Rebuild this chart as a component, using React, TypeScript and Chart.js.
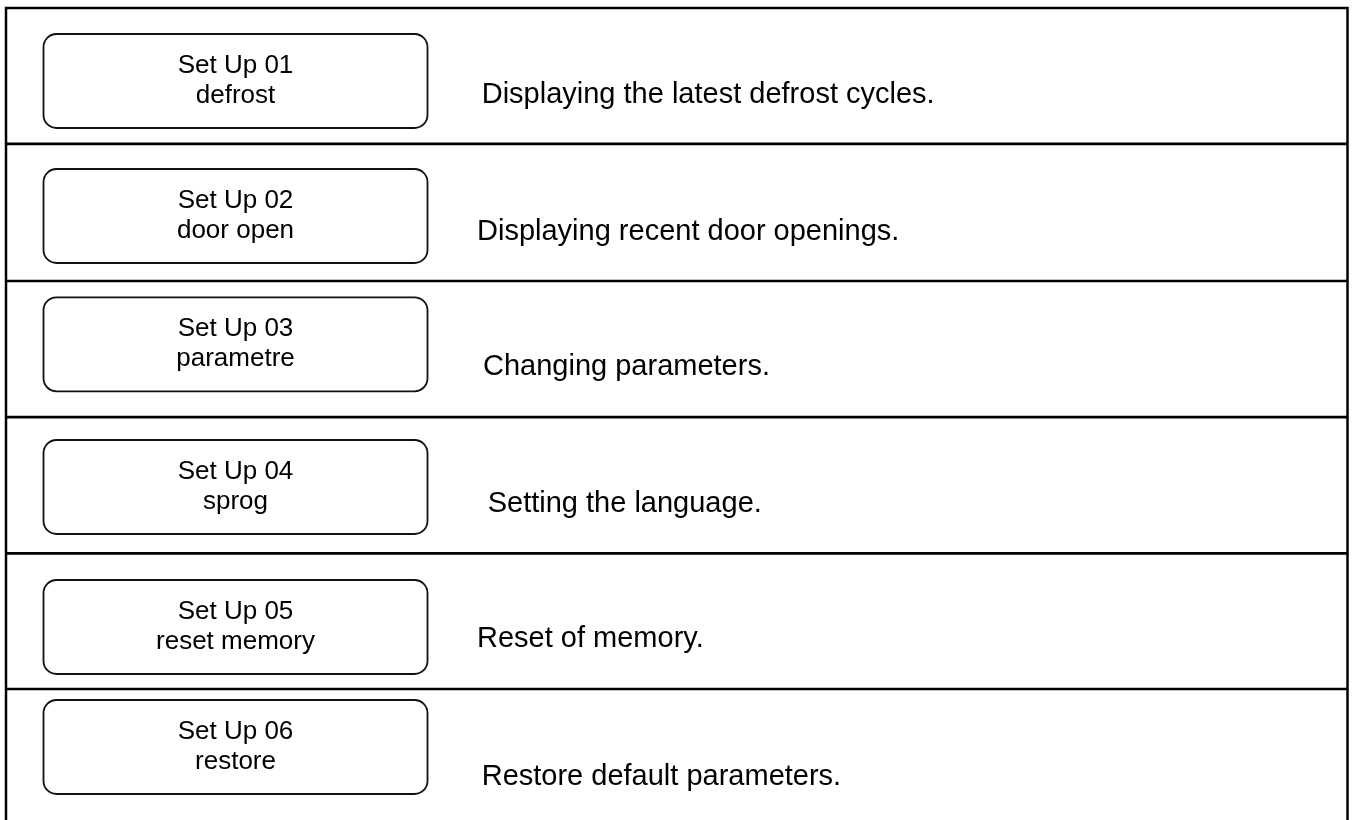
import React, { useEffect, useRef } from "react";
import { Chart, registerables } from "chart.js";

Chart.register(...registerables);

// ---- content ----
const setupCodes = ["Set Up 01", "Set Up 02", "Set Up 03", "Set Up 04", "Set Up 05", "Set Up 06"];
const setupNames = ["defrost", "door open", "parametre", "sprog", "reset memory", "restore"];
const descriptions = [
  "Displaying the latest defrost cycles.",
  "Displaying recent door openings.",
  "Changing parameters.",
  "Setting the language.",
  "Reset of memory.",
  "Restore default parameters.",
];

// ---- layout (values on the hidden linear scales) ----
const W = 1354;
const H = 820;
const frameLeft = 6;
const frameRight = 1347.5;
const frameTop = 8;
const rowLines = [143.8, 281, 417.2, 553.3, 689];
const boxLeft = 43.5;
const boxRight = 427.5;
const boxHeight = 94;
const boxTops = [34, 169, 297.3, 440, 580, 700];
const descX = [481.7, 477, 483, 487.7, 477, 481.7];
const descBaselines = [103, 240, 375, 511.7, 647, 785];

const FONT = "'Liberation Sans', Arial, Helvetica, sans-serif";

const tablePlugin = {
  id: "setupTable",
  afterDraw(chart: any) {
    const { ctx } = chart;
    const xs = chart.scales.x;
    const ys = chart.scales.y;
    const px = (v: number) => xs.getPixelForValue(v);
    const py = (v: number) => ys.getPixelForValue(v);

    ctx.save();
    // outer frame (open at the bottom, continues below the view)
    ctx.strokeStyle = "#000";
    ctx.lineWidth = 2.5;
    ctx.beginPath();
    ctx.moveTo(px(frameLeft), py(H + 10));
    ctx.lineTo(px(frameLeft), py(frameTop));
    ctx.lineTo(px(frameRight), py(frameTop));
    ctx.lineTo(px(frameRight), py(H + 10));
    ctx.stroke();

    // row separators
    ctx.lineWidth = 2.7;
    rowLines.forEach((y) => {
      ctx.beginPath();
      ctx.moveTo(px(frameLeft), py(y));
      ctx.lineTo(px(frameRight), py(y));
      ctx.stroke();
    });

    // rounded boxes with labels
    setupCodes.forEach((code, i) => {
      const x0 = px(boxLeft);
      const x1 = px(boxRight);
      const y0 = py(boxTops[i]);
      const y1 = py(boxTops[i] + boxHeight);
      ctx.beginPath();
      ctx.lineWidth = 1.8;
      ctx.strokeStyle = "#111";
      (ctx as any).roundRect(x0, y0, x1 - x0, y1 - y0, 13);
      ctx.stroke();

      ctx.fillStyle = "#000";
      ctx.font = `26px ${FONT}`;
      ctx.textAlign = "center";
      ctx.textBaseline = "alphabetic";
      const cx = (x0 + x1) / 2;
      ctx.fillText(code, cx, py(boxTops[i] + 39));
      ctx.fillText(setupNames[i], cx, py(boxTops[i] + 69));

      ctx.font = `29px ${FONT}`;
      ctx.textAlign = "left";
      ctx.fillText(descriptions[i], px(descX[i]), py(descBaselines[i]));
    });
    ctx.restore();
  },
};

export default function App() {
  const canvasRef = useRef<HTMLCanvasElement | null>(null);

  useEffect(() => {
    if (!canvasRef.current) return;
    const chart = new Chart(canvasRef.current, {
      type: "scatter",
      data: { datasets: [{ data: [], pointRadius: 0 }] },
      options: {
        animation: false,
        responsive: false,
        devicePixelRatio: 1,
        layout: { padding: 0 },
        events: [],
        scales: {
          x: { type: "linear", min: 0, max: W, display: false },
          y: { type: "linear", min: 0, max: H, reverse: true, display: false },
        },
        plugins: {
          legend: { display: false },
          tooltip: { enabled: false },
          title: { display: false },
        },
      },
      plugins: [tablePlugin],
    });
    return () => chart.destroy();
  }, []);

  return (
    <div style={{ position: "absolute", left: 0, top: 0, width: W, height: H, background: "#fff" }}>
      <canvas ref={canvasRef} width={W} height={H} style={{ display: "block" }} />
    </div>
  );
}
